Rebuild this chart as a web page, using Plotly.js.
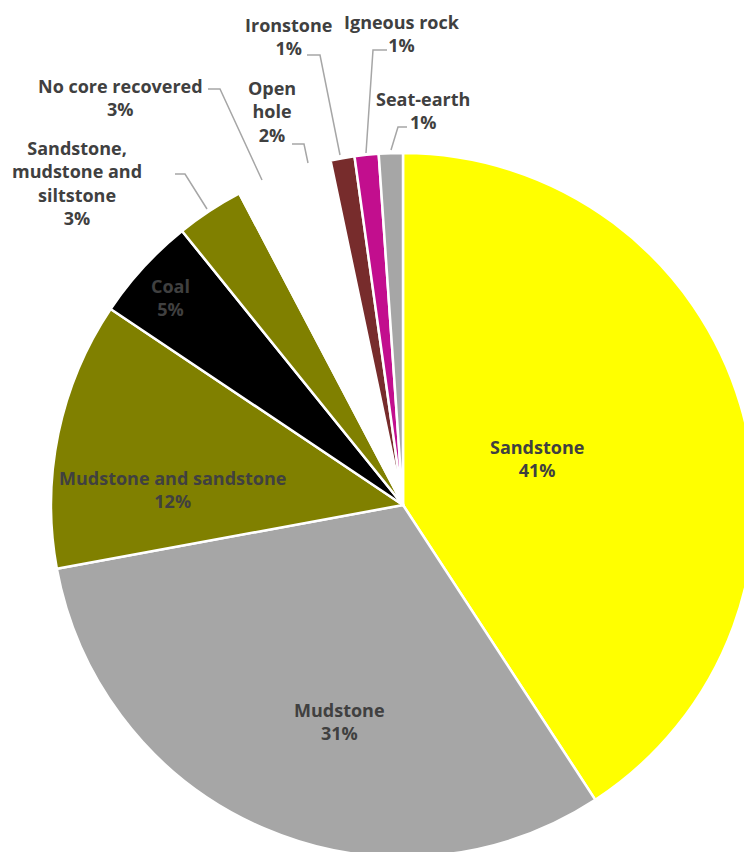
<!DOCTYPE html>
<html>
<head>
<meta charset="utf-8">
<script src="https://cdn.plot.ly/plotly-3.0.1.min.js"></script>
<style>
  html, body { margin: 0; padding: 0; overflow: hidden; background: #fff; }
  #chart { width: 780px; height: 880px; }
</style>
</head>
<body>
<div id="chart"></div>
<script>
// ---- Data ----
const categories = ['Sandstone', 'Mudstone', 'Mudstone and sandstone', 'Coal',
  'Sandstone, mudstone and siltstone', 'No core recovered', 'Open hole',
  'Ironstone', 'Igneous rock', 'Seat-earth'];
const shares = [40.8, 31.3, 12.3, 4.8, 3.1, 2.6, 1.8, 1.1, 1.1, 1.1];
const displayNames = ['Sandstone', 'Mudstone', 'Mudstone and sandstone', 'Coal',
  'Sandstone,<br>mudstone and<br>siltstone', 'No core recovered', 'Open<br>hole',
  'Ironstone', 'Igneous rock', 'Seat-earth'];
const sliceColors = ['#FFFF00', '#A6A6A6', '#808000', '#000000', '#808000',
  '#FFFFFF', '#FFFFFF', '#772C2C', '#C20E8E', '#A6A6A6'];

// ---- Layout helpers ----
const W = 780, H = 880;
const px = x => x / W;
const py = y => 1 - y / H;
const cx = 403, cy = 505, R = 352;

// label block centres (pixels) and leader polylines
const labelPos = [
  [537, 458], [339, 721], [172, 490], [170, 297], [77, 183],
  [120, 97], [272, 112], [288, 37], [402, 34], [423, 110]
];
const leaders = [
  null, null, null, null,
  [[175, 174], [185, 174], [207, 209]],
  [[208, 89], [220, 89], [262, 180]],
  [[292, 144], [304, 144], [308, 163]],
  [[307, 55], [320, 55], [340, 155]],
  [[387, 50], [373, 50], [366, 153]],
  [[407, 127], [398, 127], [391, 150]]
];

const total = shares.reduce((a, b) => a + b, 0);
const annotations = categories.map((c, i) => ({
  xref: 'paper', yref: 'paper',
  x: px(labelPos[i][0]), y: py(labelPos[i][1]),
  xanchor: 'center', yanchor: 'middle',
  text: displayNames[i] + '<br>' + Math.round(shares[i] / total * 100) + '%',
  showarrow: false,
  align: 'center',
  font: { family: 'Open Sans', size: 18, color: '#404040', weight: 'bold' }
}));

const shapes = leaders.filter(l => l).map(l => ({
  type: 'path', xref: 'paper', yref: 'paper',
  path: 'M' + l.map(p => px(p[0]) + ',' + py(p[1])).join(' L'),
  line: { color: '#A6A6A6', width: 1.5 }
}));

const trace = {
  type: 'pie',
  labels: categories,
  values: shares,
  sort: false,
  direction: 'clockwise',
  rotation: 0,
  marker: { colors: sliceColors, line: { color: '#FFFFFF', width: 2.5 } },
  textinfo: 'none',
  hoverinfo: 'label+percent',
  showlegend: false,
  domain: { x: [px(cx - R), px(cx + R)], y: [py(cy + R), py(cy - R)] }
};

const layout = {
  width: W, height: H,
  margin: { l: 0, r: 0, t: 0, b: 0 },
  paper_bgcolor: '#FFFFFF',
  showlegend: false,
  annotations: annotations,
  shapes: shapes
};

Plotly.newPlot('chart', [trace], layout, { displayModeBar: false, staticPlot: true });
</script>
</body>
</html>
